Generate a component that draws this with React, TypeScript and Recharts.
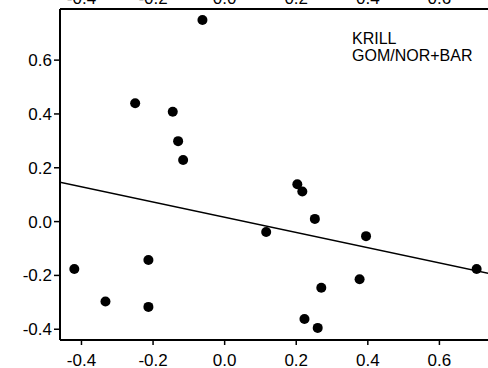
import { ComposedChart, Scatter, XAxis, YAxis } from "recharts";

const X_VALUES = [
  -0.062, -0.25, -0.145, -0.13, -0.116, 0.203, 0.217, 0.252, 0.116, 0.395,
  -0.42, -0.213, -0.333, -0.213, 0.704, 0.377, 0.27, 0.223, 0.26,
];
const Y_VALUES = [
  0.749, 0.44, 0.408, 0.299, 0.229, 0.139, 0.112, 0.01, -0.039, -0.054,
  -0.176, -0.143, -0.297, -0.317, -0.176, -0.214, -0.246, -0.362, -0.395,
];
const FIT_X = [-0.46, 0.8];
const FIT_Y = [0.146, -0.21];
const TICKS = [-0.4, -0.2, 0.0, 0.2, 0.4, 0.6];
const X_DOMAIN = [-0.46, 0.8];
const Y_DOMAIN = [-0.44, 0.79];
const LABEL_LINES = ["KRILL", "GOM/NOR+BAR"];

const points = X_VALUES.map((x, i) => ({ x, y: Y_VALUES[i] }));
const fit = FIT_X.map((x, i) => ({ x, y: FIT_Y[i] }));

const FONT = "'Liberation Sans', Arial, sans-serif";
const fmt = (v: number) => v.toFixed(1);
const tickStyle = { fill: "#000", fontSize: 17, fontFamily: FONT };

const Dot = (props: any) => <circle cx={props.cx} cy={props.cy} r={5} fill="#000" />;

export default function App() {
  return (
    <div
      style={{
        position: "fixed",
        left: 0,
        top: 0,
        width: 488,
        height: 368,
        overflow: "hidden",
        background: "#fff",
      }}
    >
      <div style={{ position: "absolute", left: 0, top: -20 }}>
        <ComposedChart
          width={520}
          height={388}
          margin={{ top: 0, right: 9, bottom: 0, left: 0 }}
        >
          <XAxis
            xAxisId="b"
            type="number"
            dataKey="x"
            domain={X_DOMAIN}
            ticks={TICKS}
            tickFormatter={fmt}
            allowDataOverflow
            height={28}
            tick={tickStyle}
            tickSize={5}
            tickMargin={9}
            axisLine={{ stroke: "#000", strokeWidth: 2 }}
            tickLine={{ stroke: "#000", strokeWidth: 1.5 }}
          />
          <XAxis
            xAxisId="t"
            orientation="top"
            type="number"
            dataKey="x"
            domain={X_DOMAIN}
            ticks={TICKS}
            tickFormatter={fmt}
            allowDataOverflow
            height={29}
            tick={tickStyle}
            tickSize={0}
            tickMargin={5}
            tickLine={false}
            axisLine={{ stroke: "#000", strokeWidth: 2 }}
          />
          <YAxis
            type="number"
            dataKey="y"
            domain={Y_DOMAIN}
            ticks={TICKS}
            tickFormatter={fmt}
            allowDataOverflow
            width={60}
            tick={tickStyle}
            tickSize={6}
            tickMargin={2}
            axisLine={{ stroke: "#000", strokeWidth: 2 }}
            tickLine={{ stroke: "#000", strokeWidth: 1.5 }}
          />
          <Scatter
            xAxisId="t"
            data={fit}
            line={{ stroke: "#000", strokeWidth: 1.5 }}
            shape={() => null}
            isAnimationActive={false}
          />
          <Scatter
            xAxisId="b"
            data={points}
            shape={Dot}
            isAnimationActive={false}
          />
          {LABEL_LINES.map((t, i) => (
            <text
              key={t}
              x={352}
              y={64 + i * 17}
              fontSize={16}
              fontFamily={FONT}
              fill="#000"
            >
              {t}
            </text>
          ))}
        </ComposedChart>
      </div>
    </div>
  );
}
